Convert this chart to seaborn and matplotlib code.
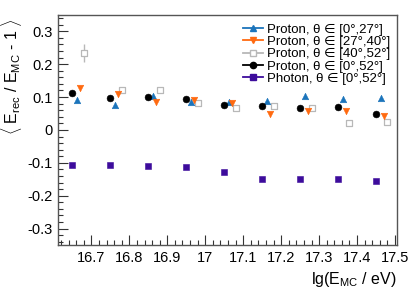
import numpy as np
import pandas as pd
import matplotlib
matplotlib.use("Agg")
import matplotlib.pyplot as plt
from matplotlib.lines import Line2D
from matplotlib.ticker import MultipleLocator, FuncFormatter
import seaborn as sns

bins = [16.65, 16.75, 16.85, 16.95, 17.05, 17.15, 17.25, 17.35, 17.45]
p_0_27 = [0.091, 0.076, 0.103, 0.085, 0.084, 0.088, 0.103, 0.094, 0.096]
p_27_40 = [0.128, 0.109, 0.084, 0.091, 0.081, 0.048, 0.058, 0.058, 0.043]
p_40_52 = [0.234, 0.120, 0.121, 0.081, 0.068, 0.073, 0.066, 0.022, 0.023]
p_40_52_err = [0.027, 0.004, 0.004, 0.004, 0.004, 0.004, 0.004, 0.004, 0.004]
p_0_52 = [0.111, 0.096, 0.099, 0.093, 0.076, 0.074, 0.068, 0.069, 0.050]
g_0_52 = [-0.107, -0.107, -0.109, -0.112, -0.129, -0.148, -0.149, -0.149, -0.155]

labels = ["Proton, θ ∈ [0°,27°]",
          "Proton, θ ∈ [27°,40°]",
          "Proton, θ ∈ [40°,52°]",
          "Proton, θ ∈ [0°,52°]",
          "Photon, θ ∈ [0°,52°]"]
offsets = [0.012, 0.02, 0.03, 0.0, 0.0]
colors = ["#1b74bb", "#ff6a10", "#b8b8b8", "#000000", "#3d0c9c"]
markers = ["^", "v", "s", "o", "s"]
filled = [True, True, False, True, True]
sizes = [22, 22, 22, 24, 20]
series = [p_0_27, p_27_40, p_40_52, p_0_52, g_0_52]

plt.rcParams['font.family'] = ['Liberation Sans', 'DejaVu Sans']
plt.rcParams['mathtext.fontset'] = 'custom'
plt.rcParams['mathtext.rm'] = 'Liberation Sans'
plt.rcParams['mathtext.it'] = 'Liberation Sans:italic'

fig = plt.figure(figsize=(4.13, 2.92), dpi=100)
ax = fig.add_axes([0.1404, 0.161, 0.8206, 0.788])

# error bars for the 40-52 series
ax.errorbar([b + offsets[2] for b in bins], p_40_52, yerr=p_40_52_err,
            fmt="none", ecolor=colors[2], elinewidth=1.0, zorder=1)

handles = []
for i, (vals, lab) in enumerate(zip(series, labels)):
    df = pd.DataFrame({"x": [b + offsets[i] for b in bins], "y": vals})
    if filled[i]:
        sns.scatterplot(data=df, x="x", y="y", ax=ax, marker=markers[i],
                        color=colors[i], s=sizes[i], edgecolor=colors[i],
                        linewidth=0.4, zorder=3 + (i == 3))
    else:
        sns.scatterplot(data=df, x="x", y="y", ax=ax, marker=markers[i],
                        facecolor="white", s=sizes[i], edgecolor=colors[i],
                        linewidth=0.9, zorder=2)
    handles.append(Line2D([0], [0], color=colors[i], marker=markers[i],
                          markersize=4.5, lw=1.3,
                          markerfacecolor=colors[i] if filled[i] else "white",
                          markeredgecolor=colors[i], label=lab))

ax.set_xlim(16.612, 17.505)
ax.set_ylim(-0.35, 0.35)
ax.xaxis.set_major_locator(MultipleLocator(0.1))
ax.xaxis.set_minor_locator(MultipleLocator(0.02))
ax.yaxis.set_major_locator(MultipleLocator(0.1))
ax.yaxis.set_minor_locator(MultipleLocator(0.02))

def fmt(v, pos):
    s = f"{v:.1f}"
    if s.endswith(".0"):
        s = s[:-2]
    if s == "-0":
        s = "0"
    return s

ax.xaxis.set_major_formatter(FuncFormatter(fmt))
ax.yaxis.set_major_formatter(FuncFormatter(fmt))
ax.tick_params(which="major", direction="in", length=7, width=0.8,
               labelsize=10.5, top=False, right=False, pad=4, colors="#333333",
               labelcolor="black")
ax.tick_params(which="minor", direction="in", length=3.5, width=0.8,
               top=False, right=False, colors="#333333")
for sp in ax.spines.values():
    sp.set_linewidth(1.0)
    sp.set_color("#555555")

ax.set_xlabel(r"lg(E$_{\rm MC}$ / eV)", fontsize=11.5, loc="right")
ax.set_ylabel(r"$\langle$ E$_{\rm rec}$ / E$_{\rm MC}$ - 1 $\rangle$", fontsize=11.5,
              loc="top")
ax.yaxis.set_label_coords(-0.1, 0.985)

leg = ax.legend(handles=handles, loc="upper right", frameon=False,
                fontsize=9.5, handlelength=1.5, handletextpad=0.3,
                labelspacing=0.0, borderaxespad=0.0,
                bbox_to_anchor=(0.995, 0.985))

fig.savefig("out.png", dpi=100)
